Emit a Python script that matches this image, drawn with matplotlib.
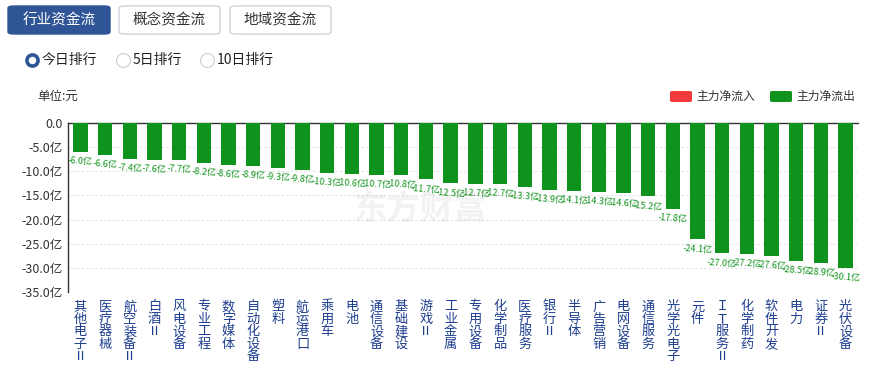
import matplotlib
matplotlib.use('Agg')
import matplotlib.pyplot as plt
from matplotlib.patches import FancyBboxPatch
from matplotlib.lines import Line2D
import numpy as np

plt.rcParams['font.family'] = ['Noto Sans CJK SC', 'DejaVu Sans']

# data
industries = ['其他电子Ⅱ', '医疗器械', '航空装备Ⅱ', '白酒Ⅱ', '风电设备', '专业工程', '数字媒体',
              '自动化设备', '塑料', '航运港口', '乘用车', '电池', '通信设备', '基础建设', '游戏Ⅱ',
              '工业金属', '专用设备', '化学制品', '医疗服务', '银行Ⅱ', '半导体', '广告营销',
              '电网设备', '通信服务', '光学光电子', '元件', 'IT服务Ⅱ', '化学制药', '软件开发',
              '电力', '证券Ⅱ', '光伏设备']
net_flow = [-6.0, -6.6, -7.4, -7.6, -7.7, -8.2, -8.6, -8.9, -9.3, -9.8, -10.3, -10.6, -10.7,
            -10.8, -11.7, -12.5, -12.7, -12.7, -13.3, -13.9, -14.1, -14.3, -14.6, -15.2,
            -17.8, -24.1, -27.0, -27.2, -27.6, -28.5, -28.9, -30.1]
y_ticks = [0, -5, -10, -15, -20, -25, -30, -35]
y_labels = ['0.0', '-5.0亿', '-10.0亿', '-15.0亿', '-20.0亿', '-25.0亿', '-30.0亿', '-35.0亿']

W, H = 875, 366
fig = plt.figure(figsize=(W / 100, H / 100), dpi=100)

def fx(px):
    return px / W

def fy(py):
    return 1 - py / H

GREEN = '#10931c'
RED = '#f23a3a'
BLUE_TXT = '#1f3f8f'

# top buttons
btns = [('行业资金流', 8, 110, True), ('概念资金流', 119, 220, False), ('地域资金流', 230, 331, False)]
for name, x0, x1, active in btns:
    fc = '#2f5597' if active else 'white'
    ec = '#2f5597' if active else '#cdd3dc'
    p = FancyBboxPatch((fx(x0), fy(34)), fx(x1 - x0), (34 - 6) / H,
                       boxstyle='round,pad=0,rounding_size=0.006', fc=fc, ec=ec, lw=1,
                       transform=fig.transFigure, figure=fig)
    fig.patches.append(p)
    fig.text(fx((x0 + x1) / 2), fy(20), name, ha='center', va='center', fontsize=10.5,
             color='white' if active else '#333333')

# radio buttons
radios = [('今日排行', 32, True), ('5日排行', 123, False), ('10日排行', 207, False)]
for name, cx, on in radios:
    if on:
        m = Line2D([fx(cx)], [fy(60)], marker='o', ms=8, mfc='white', mec='#2f5597', mew=2.6,
                   transform=fig.transFigure)
    else:
        m = Line2D([fx(cx)], [fy(60)], marker='o', ms=10, mfc='white', mec='#cfcfcf', mew=0.8,
                   transform=fig.transFigure)
    fig.add_artist(m)
    fig.text(fx(cx + 10), fy(60), name, ha='left', va='center', fontsize=10, color='#222222')

fig.text(fx(37), fy(96), '单位:元', ha='left', va='center', fontsize=9, color='#333333')

# legend
for x0, col, name in [(670, RED, '主力净流入'), (770, GREEN, '主力净流出')]:
    r = FancyBboxPatch((fx(x0), fy(102)), fx(22), 11 / H,
                       boxstyle='round,pad=0,rounding_size=0.003', fc=col, ec='none',
                       transform=fig.transFigure, figure=fig)
    fig.patches.append(r)
    fig.text(fx(x0 + 26), fy(96), name, ha='left', va='center', fontsize=8.5, color='#333333')

# chart
ax = fig.add_axes([fx(68), fy(292), fx(858 - 68), (292 - 123) / H])
x = np.arange(len(industries))
ax.bar(x, net_flow, width=0.58, color=GREEN, zorder=3)
ax.set_xlim(-0.5, len(industries) - 0.5)
ax.set_ylim(-35, 0)
ax.set_yticks(y_ticks)
ax.set_yticklabels(y_labels, fontsize=9, color='#333333')
ax.yaxis.grid(True, color='#e3e3e3', linestyle=(0, (2, 2)), lw=0.8, zorder=0)
ax.tick_params(axis='y', length=0, pad=4)
ax.set_xticks(x)
ax.set_xticklabels(['\n'.join(list(n.replace('IT', 'ＩＴ'))) for n in industries],
                   fontsize=9.5, color=BLUE_TXT, va='top', linespacing=0.95)
ax.tick_params(axis='x', length=0, pad=6)
for s in ['right', 'bottom']:
    ax.spines[s].set_visible(False)
ax.spines['top'].set_color('#333333')
ax.spines['left'].set_color('#333333')
ax.spines['top'].set_linewidth(1)
ax.spines['left'].set_linewidth(1)

for xi, v in zip(x, net_flow):
    ax.annotate(f'{v:.1f}亿', (xi, v), xytext=(0, -3), textcoords='offset points',
                ha='center', va='top', fontsize=6.5, color=GREEN, rotation=-4, zorder=4)

# watermark
fig.text(fx(420), fy(210), '东方财富', ha='center', va='center', fontsize=24,
         color='#000000', alpha=0.05, fontweight='bold')

fig.savefig('out.png', dpi=100)
